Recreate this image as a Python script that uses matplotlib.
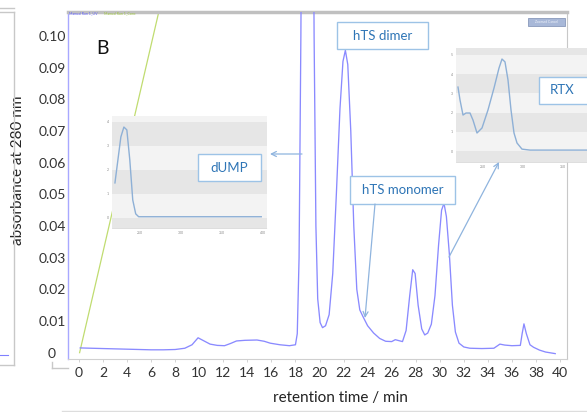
import matplotlib
matplotlib.use("Agg")
import matplotlib.pyplot as plt
from matplotlib.patches import Rectangle, FancyArrowPatch
from matplotlib.lines import Line2D

# ---------------- data ----------------
time_min = [0.1, 1.0, 2.0, 3.0, 4.0, 5.0, 6.0, 7.0, 8.0, 8.8, 9.4, 9.9, 10.3, 10.9,
            11.5, 12.1, 12.6, 13.1, 13.8, 14.8, 15.4, 15.9, 16.7, 17.5, 18.0, 18.15,
            18.3, 18.45, 18.6, 19.0, 19.4, 19.55, 19.7, 19.85, 20.05, 20.25, 20.5,
            20.8, 21.1, 21.4, 21.7, 21.95, 22.15, 22.35, 22.6, 22.85, 23.1, 23.35,
            23.6, 24.0, 24.5, 25.0, 25.5, 26.0, 26.3, 26.6, 26.9, 27.2, 27.5, 27.75,
            27.95, 28.2, 28.5, 28.75, 29.0, 29.3, 29.6, 29.9, 30.15, 30.35, 30.55,
            30.8, 31.05, 31.3, 31.6, 32.0, 32.5, 33.5, 34.5, 35.0, 35.4, 36.0, 36.7,
            36.85, 37.0, 37.2, 37.5, 37.8, 38.3, 38.8, 39.6]
absorbance = [0.0015, 0.0014, 0.0013, 0.0012, 0.0011, 0.0010, 0.0009, 0.0009, 0.0010,
              0.0014, 0.0025, 0.0047, 0.0039, 0.0027, 0.0023, 0.0022, 0.0029, 0.0037,
              0.0039, 0.0040, 0.0036, 0.0030, 0.0025, 0.0022, 0.0025, 0.006, 0.03,
              0.10, 0.20, 0.30, 0.20, 0.10, 0.04, 0.017, 0.0095, 0.0079, 0.0085, 0.012,
              0.025, 0.05, 0.077, 0.092, 0.0955, 0.091, 0.07, 0.04, 0.02, 0.0135,
              0.0115, 0.0085, 0.0062, 0.0045, 0.0036, 0.0035, 0.0041, 0.0038, 0.0035,
              0.007, 0.018, 0.0262, 0.025, 0.015, 0.0075, 0.0056, 0.0062, 0.009, 0.018,
              0.034, 0.045, 0.0472, 0.043, 0.031, 0.015, 0.0065, 0.003, 0.0018, 0.0014,
              0.0013, 0.0014, 0.0027, 0.0024, 0.0022, 0.0023, 0.006, 0.0091, 0.006,
              0.0025, 0.0017, 0.0008, 0.0002, -0.0003]

gradient_time = [0.05, 7.0]
gradient_level = [0.0, 0.1136]

x_ticks = list(range(0, 41, 2))
y_ticks = [0, 0.01, 0.02, 0.03, 0.04, 0.05, 0.06, 0.07, 0.08, 0.09, 0.10]
y_tick_labels = ["0", "0.01", "0.02", "0.03", "0.04", "0.05", "0.06", "0.07",
                 "0.08", "0.09", "0.10"]

# dUMP inset spectrum
dump_wl = [219.6, 223.2, 226.8, 230.5, 234.1, 237.7, 241.3, 244.9, 248.5, 398.0]
dump_abs = [1.46, 2.42, 3.375, 3.79, 3.67, 2.42, 0.75, 0.17, 0.05, 0.05]
dump_xticks = [250, 300, 350, 400]
dump_yticks = [0, 1, 2, 3, 4]

# RTX inset spectrum
rtx_wl = [218.5, 221.0, 224.75, 228.5, 233.5, 237.25, 242.25, 248.5, 256.0, 263.5,
          269.75, 273.5, 277.25, 281.0, 284.75, 288.5, 292.25, 298.5, 308.5, 395.0]
rtx_abs = [3.33, 2.66, 1.875, 1.98, 1.98, 1.61, 0.94, 1.2, 2.14, 3.28, 4.32, 4.79,
           4.64, 3.70, 2.14, 0.94, 0.42, 0.10, 0.05, 0.05]
rtx_xticks = [250, 300, 350]
rtx_yticks = [0, 1, 2, 3, 4, 5]

# ---------------- figure ----------------
W, H = 587, 412
fig = plt.figure(figsize=(W / 100, H / 100), dpi=100)
plt.rcParams['font.family'] = ['Lato', 'DejaVu Sans']


def fx(px):
    return px / W


def fy(py):
    return 1 - py / H


def rect_ax(x0, y0, x1, y1):
    return [fx(x0), fy(y1), fx(x1) - fx(x0), fy(y0) - fy(y1)]


main_blue = '#8a8aff'
ax = fig.add_axes(rect_ax(68, 12, 567, 359))
ax.plot(time_min, absorbance, color=main_blue, lw=0.95, zorder=3)
ax.plot(gradient_time, gradient_level, color='#c0dc70', lw=0.9, zorder=2)
ax.set_xlim(-0.915, 40.58)
ax.set_ylim(-0.002, 0.1076)
ax.set_xticks(x_ticks)
ax.set_yticks(y_ticks)
ax.set_yticklabels(y_tick_labels)
ax.tick_params(axis='x', length=2, width=0.6, color='#cccccc', pad=4,
               labelsize=10, labelcolor='#333333')
ax.tick_params(axis='y', length=0, pad=11.5, labelsize=10, labelcolor='#333333')
for lab in ax.get_yticklabels():
    lab.set_horizontalalignment('center')
ax.spines['left'].set_color('#a8a8ff')
ax.spines['left'].set_linewidth(1.0)
ax.spines['bottom'].set_color('#d0d0d0')
ax.spines['right'].set_color('#c8c8c8')
ax.spines['top'].set_color('#c0c0c0')
ax.spines['top'].set_linewidth(2.5)

fig.text(fx(340), fy(398), "retention time / min", ha='center', va='center',
         fontsize=11, color='#222222')
fig.text(fx(18), fy(170), "absorbance at 280 nm", ha='center', va='center',
         rotation=90, fontsize=11, color='#222222')
fig.text(fx(102), fy(48), "B", ha='center', va='center', fontsize=14, color='#111111')

# tiny legend text and button
fig.text(fx(69), fy(13.5), "Manual Run 1_UV", fontsize=2.6, color='#6060ff', va='center')
fig.text(fx(104), fy(13.5), "Manual Run 1_Conc", fontsize=2.6, color='#a0c840', va='center')
fig.add_artist(Rectangle((fx(528), fy(26)), fx(565) - fx(528), fy(18) - fy(26),
                         transform=fig.transFigure, facecolor='#a8b8d8',
                         edgecolor='#8899bb', lw=0.6, zorder=6))
fig.text(fx(546.5), fy(22), "Zoomed Cancel", fontsize=2.4, color='#eef2fa',
         ha='center', va='center', zorder=7)

# --------------- insets ---------------
inset_line = '#8eb0d6'
band_dark = '#e6e6e6'
band_light = '#f3f3f3'


def style_inset(a, ylo, yhi, yticks):
    a.set_facecolor(band_light)
    edges = [ylo] + list(yticks) + [yhi]
    for i in range(len(edges) - 1):
        col = band_dark if i % 2 == 0 else band_light
        a.axhspan(edges[i], edges[i + 1], color=col, lw=0, zorder=0)
    for s in a.spines.values():
        s.set_visible(False)
    a.spines['bottom'].set_visible(True)
    a.spines['bottom'].set_color('#d8d8d8')
    a.spines['bottom'].set_linestyle((0, (1, 1)))
    a.spines['bottom'].set_linewidth(0.6)
    a.tick_params(length=0, labelsize=2.5, labelcolor='#888888', pad=2)


ax_d = fig.add_axes(rect_ax(112, 116, 267, 228), zorder=2)
ax_d.plot(dump_wl, dump_abs, color=inset_line, lw=1.0, zorder=3)
ax_d.set_xlim(216, 405)
ax_d.set_ylim(-0.42, 4.25)
ax_d.set_xticks(dump_xticks)
ax_d.set_yticks(dump_yticks)
style_inset(ax_d, -0.42, 4.25, dump_yticks)

ax_r = fig.add_axes(rect_ax(456, 47.7, 600, 162), zorder=2)
ax_r.plot(rtx_wl, rtx_abs, color=inset_line, lw=1.0, zorder=3)
ax_r.set_xlim(216, 396)
ax_r.set_ylim(-0.57, 5.38)
ax_r.set_xticks(rtx_xticks)
ax_r.set_yticks(rtx_yticks)
style_inset(ax_r, -0.57, 5.38, rtx_yticks)

# --------------- label boxes ---------------
box_edge = '#9dc3e6'
text_blue = '#2e75b6'


def label_box(x0, y0, x1, y1, txt, cx=None):
    fig.add_artist(Rectangle((fx(x0), fy(y1)), fx(x1) - fx(x0), fy(y0) - fy(y1),
                             transform=fig.transFigure, facecolor='white',
                             edgecolor=box_edge, lw=1.0, zorder=6))
    if cx is None:
        cx = (x0 + x1) / 2
    fig.text(fx(cx), fy((y0 + y1) / 2), txt, ha='center', va='center',
             fontsize=9.5, color=text_blue, zorder=7)


label_box(198, 154, 261, 181, "dUMP")
label_box(337, 22, 428, 49, "hTS dimer")
label_box(350, 176, 455, 204, "hTS monomer")
label_box(539, 77, 600, 104, "RTX", cx=562.5)

# --------------- arrows ---------------
arrow_col = '#8fb4de'


def arrow(x0, y0, x1, y1):
    fig.add_artist(FancyArrowPatch((fx(x0), fy(y0)), (fx(x1), fy(y1)),
                                   transform=fig.transFigure, arrowstyle='->',
                                   mutation_scale=9, color=arrow_col, lw=0.9,
                                   shrinkA=0, shrinkB=0, zorder=8))


arrow(302, 154, 270, 154)
arrow(375, 204, 365, 318)
arrow(449, 257, 499, 162)

# --------------- frame remnants ---------------
grey = '#c8c8c8'


def seg(x0, y0, x1, y1, col=grey, lw=1.0):
    fig.add_artist(Line2D([fx(x0), fx(x1)], [fy(y0), fy(y1)],
                          transform=fig.transFigure, color=col, lw=lw, zorder=4))


seg(0, 8, 14, 8)
seg(0, 12, 14, 12)
seg(14, 12, 14, 365)
seg(0, 365, 14, 365)
seg(0, 355, 8, 355, col='#8080ff', lw=0.8)
seg(52, 362, 52, 368)
seg(52, 368, 68, 368)
seg(62, 411, 587, 411, col='#dddddd')

fig.savefig("out.png", dpi=100)
